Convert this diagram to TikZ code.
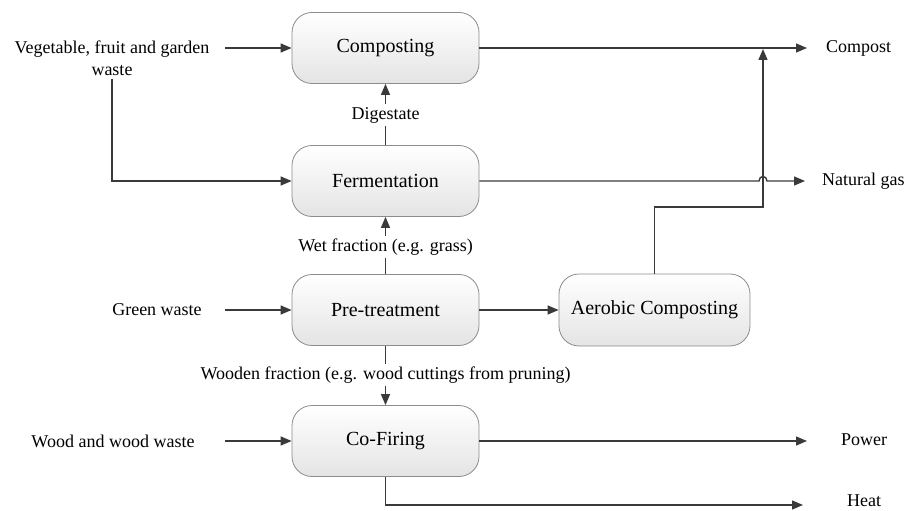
\documentclass[tikz,border=0pt]{standalone}
\usepackage{fontspec}
\setmainfont{Liberation Serif}
\usetikzlibrary{arrows.meta}
\definecolor{boxborder}{HTML}{8C8C8C}
\definecolor{boxbottom}{HTML}{E4E4E4}
\definecolor{linecol}{HTML}{3A3A3A}
\begin{document}
\begin{tikzpicture}[x=1pt,y=-1pt,
  box/.style={draw=boxborder, line width=0.8pt, rounded corners=20pt,
    top color=white, bottom color=boxbottom, minimum width=187pt,
    minimum height=71pt, font=\fontsize{20}{24}\selectfont, inner sep=0pt},
  lbl/.style={inner sep=3pt, font=\fontsize{18}{22}\selectfont},
  conn/.style={draw=linecol, line width=1.4pt},
  arr/.style={conn, -{Triangle[length=11pt,width=9pt]}}]
\useasboundingbox (0,0) rectangle (906,511);

% process boxes
\node[box] (comp) at (385.5,48) {Composting};
\node[box] (fer) at (385.5,181) {Fermentation};
\node[box] (pre) at (385.5,310) {Pre-treatment};
\node[box] (cof) at (385.5,441) {Co-Firing};
\node[box, minimum width=191pt, minimum height=72pt] (aer) at (654.5,310) {Aerobic Composting};

% inputs
\node[lbl, align=center] (veg) at (112,58) {Vegetable, fruit and garden\\waste};
\node[lbl] (green) at (157,310) {Green waste};
\node[lbl] (wood) at (113,441) {Wood and wood waste};
\coordinate (vegin) at (225,48);
\coordinate (greenin) at (225,310);
\coordinate (woodin) at (225,441);

% outputs
\node[lbl, anchor=west] (compost) at (823,48) {Compost};
\node[lbl, anchor=west] (ngas) at (819,181) {Natural gas};
\node[lbl, anchor=west] (power) at (838,440) {Power};
\node[lbl, anchor=west, inner sep=1pt] (heat) at (846,501) {Heat};
\coordinate (compostend) at (807,48);
\coordinate (ngasend) at (805,181);
\coordinate (powerend) at (807,441);
\coordinate (heatend) at (803,505);

% intermediate labels
\node[lbl] (dig) at (385.5,115) {Digestate};
\node[lbl] (wet) at (385.5,247) {Wet fraction (e.g. grass)};
\node[lbl] (wdf) at (385.5,375) {Wooden fraction (e.g. wood cuttings from pruning)};

% hop / junction coordinates
\coordinate (aerturn) at (654.5,207);
\coordinate (riser) at (763,207);
\coordinate (risetop) at (763,49);
\coordinate (hopa) at (759,181);
\coordinate (hopb) at (767,181);

% connectors
\draw[arr] (vegin) -- (comp.west);
\draw[arr] (veg.south) -- (veg.south |- fer.west) -- (fer.west);
\draw[arr] (greenin) -- (pre.west);
\draw[arr] (woodin) -- (cof.west);

\draw[conn] (fer.north) -- (dig.south);
\draw[arr] (dig.north) -- (comp.south);
\draw[conn] (pre.north) -- (wet.south);
\draw[arr] (wet.north) -- (fer.south);
\draw[conn] (pre.south) -- (wdf.north);
\draw[arr] (wdf.south) -- (cof.north);

\draw[arr] (pre.east) -- (aer.west);

\draw[arr] (comp.east) -- (compostend);
\draw[arr] (aer.north) -- (aerturn) -- (riser) -- (risetop);
\draw[arr] (fer.east) -- (hopa) .. controls (759,175) and (767,175) .. (hopb) -- (ngasend);
\draw[arr] (cof.east) -- (powerend);
\draw[arr] (cof.south) -- (cof.south |- heatend) -- (heatend);
\end{tikzpicture}
\end{document}
